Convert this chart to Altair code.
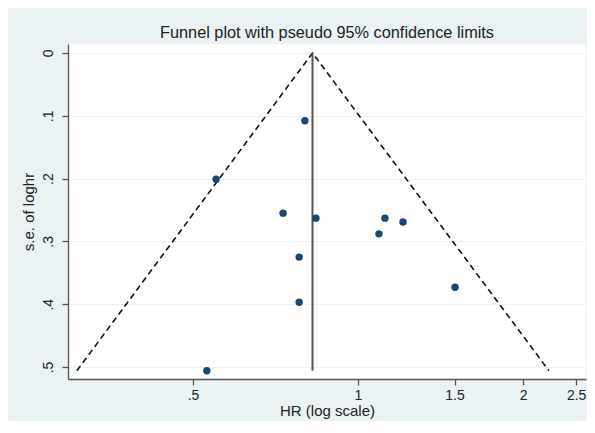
import altair as alt
import pandas as pd

# Study estimates
hr = [0.800, 0.551, 0.730, 0.838, 1.120, 1.208, 1.092, 0.781, 1.503, 0.781, 0.530]
se = [0.108, 0.201, 0.255, 0.263, 0.263, 0.269, 0.288, 0.325, 0.373, 0.397, 0.506]

# Pooled estimate and pseudo 95% confidence limits
pooled_hr = 0.826
se_max = 0.506
funnel_hr = [0.307, 0.826, 2.23]
funnel_se = [0.506, 0.0, 0.506]

x_ticks = [0.5, 1, 1.5, 2, 2.5]
y_ticks = [0, 0.1, 0.2, 0.3, 0.4, 0.5]

BG = "#EAF2F3"
NAVY = "#1A476F"
FONT = "Liberation Sans"
TXT = "#222222"
AX = "#555555"

pts = pd.DataFrame({"hr": hr, "se": se})
funnel = pd.DataFrame({"hr": funnel_hr, "se": funnel_se, "i": list(range(len(funnel_hr)))})
pooled = pd.DataFrame({"hr": [pooled_hr], "se0": [0.0], "se1": [se_max]})

xscale = alt.Scale(type="log", domain=[0.2958, 2.6054], nice=False)
yscale = alt.Scale(domain=[-0.0143, 0.5191], reverse=True, nice=False, zero=False)

xaxis = alt.Axis(
    values=x_ticks,
    labelExpr="datum.value == 0.5 ? '.5' : toString(datum.value)",
    title="HR (log scale)",
    grid=False,
    tickSize=6,
    tickColor=AX,
    tickWidth=1.3,
    domainColor=AX,
    domainWidth=1.3,
    labelPadding=3,
    labelFontSize=14,
    labelFont=FONT,
    labelColor=TXT,
    titleFont=FONT,
    titleFontSize=15,
    titleFontWeight="normal",
    titleColor=TXT,
    titlePadding=1,
)
yaxis = alt.Axis(
    values=y_ticks,
    labelExpr="datum.value == 0 ? '0' : substring(format(datum.value, '.1f'), 1)",
    title="s.e. of loghr",
    grid=True,
    gridColor=BG,
    gridWidth=1.2,
    tickSize=6,
    tickColor=AX,
    tickWidth=1.3,
    domainColor=AX,
    domainWidth=1.3,
    labelAngle=270,
    labelAlign="center",
    labelBaseline="bottom",
    labelPadding=7,
    labelFontSize=14,
    labelFont=FONT,
    labelColor=TXT,
    titleFont=FONT,
    titleFontSize=15,
    titleFontWeight="normal",
    titleColor=TXT,
    titlePadding=5,
)

points = alt.Chart(pts).mark_circle(size=55, color=NAVY, opacity=1).encode(
    x=alt.X("hr:Q", scale=xscale, axis=xaxis),
    y=alt.Y("se:Q", scale=yscale, axis=yaxis),
)

funnel_line = alt.Chart(funnel).mark_line(
    color="#111111", strokeDash=[6, 4], strokeWidth=1.6
).encode(
    x=alt.X("hr:Q", scale=xscale),
    y=alt.Y("se:Q", scale=yscale),
    order="i:O",
)

pooled_line = alt.Chart(pooled).mark_rule(color="#555555", strokeWidth=2).encode(
    x=alt.X("hr:Q", scale=xscale),
    y=alt.Y("se0:Q", scale=yscale),
    y2="se1:Q",
)

chart = (
    alt.layer(funnel_line, pooled_line, points)
    .properties(
        width=518,
        height=335,
        title=alt.TitleParams(
            "Funnel plot with pseudo 95% confidence limits",
            font=FONT,
            fontSize=16.3,
            fontWeight="normal",
            color=TXT,
            anchor="middle",
            baseline="alphabetic",
            frame="group",
            offset=6,
            dy=16,
        ),
        autosize=alt.AutoSizeParams(type="none"),
        padding={"left": 60, "top": 36, "right": 1, "bottom": 42},
        background=BG,
    )
    .configure_view(fill="white", strokeWidth=0)
)

chart.save("out.html", embed_options={"renderer": "svg", "actions": False})
